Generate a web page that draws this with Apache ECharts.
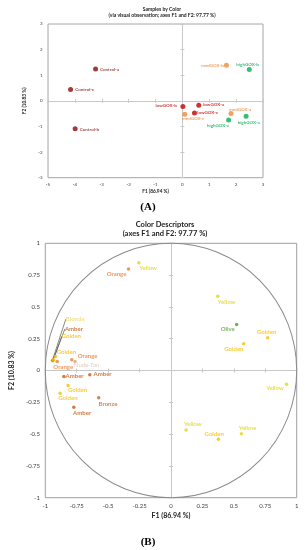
<!DOCTYPE html>
<html><head><meta charset="utf-8">
<script src="https://cdn.jsdelivr.net/npm/echarts@6/dist/echarts.min.js"></script>
<style>html,body{margin:0;padding:0;background:#fff}#c{width:305px;height:550px}</style>
</head><body><div id="c"></div>
<script>
// ---------- Panel A: samples ----------
const sampleNames = ['Control-a','Control-b','Control-c','lowGOX-a','lowGOX-b','lowGOX-c','medGOX-a','medGOX-b','medGOX-c','highGOX-a','highGOX-b','highGOX-c'];
const sampleF1 = [-3.23,-3.99,-4.16,0.61,0.02,0.45,1.81,1.64,0.09,2.37,2.49,1.72];
const sampleF2 = [1.24,-1.09,0.44,-0.17,-0.22,-0.47,-0.49,1.39,-0.52,-0.60,1.22,-0.75];
const axisA_x = [-5, 3, 1];   // min, max, interval
const axisA_y = [-3, 3, 1];

// ---------- Panel B: colour descriptors ----------
const descNames = ['Orange','Yellow','Blonde','Amber','Golden','Golden','Orange','Orange','Nude-Tan','Amber','Amber','Golden','Golden','Bronze','Amber','Yellow','Olive','Golden','Golden','Yellow','Yellow','Golden','Yellow'];
const descF1 = [-0.338,-0.256,-0.945,-0.940,-0.935,-0.918,-0.905,-0.789,-0.763,-0.852,-0.646,-0.819,-0.882,-0.575,-0.773,0.372,0.522,0.769,0.578,0.919,0.120,0.377,0.560];
const descF2 = [0.798,0.848,0.075,0.080,0.085,0.110,0.071,0.084,0.071,-0.047,-0.034,-0.118,-0.179,-0.215,-0.289,0.583,0.362,0.257,0.210,-0.108,-0.467,-0.541,-0.498];
const axisB = [-1, 1, 0.25];

// ---------- layout / style (not data) ----------
const sampleLabelOffsets = [[14,0],[14.3,0.3],[14.2,0.3],[14.9,-1],[-16.8,-1.4],[13.2,-0.3],[9.2,-4.3],[-14,0.7],[8.3,4.4],[2.7,6],[-1.7,-5.4],[-10.6,5]];
const descLabelOffsets = [[-12,4.6],[9.3,5.7],[23,-41.8],[21.1,-31.5],[17.9,-23.2],[10.8,-4.3],[6,5.7],[15.8,-3.3],[11.5,3.7],[10.7,-0.7],[12.8,-0.3],[9.5,4.3],[7.8,5],[9.3,6],[8.3,6.3],[8.8,5.7],[-8.9,4.7],[-1,-6],[-9.8,5.7],[-11.5,3.6],[6.7,-6.3],[-4.2,-5.4],[6.1,-5.3]];
const leaderIdx = [2,3,4];
const groupColors = {Control:'#8B0A0A', lowGOX:'#C00000', medGOX:'#F08A3C', highGOX:'#00B050'};
const descColors = {Orange:'#ED7D31', Yellow:'#E2D31C', Blonde:'#F0D86A', Amber:'#C55A11', Golden:'#F7BE00', 'Nude-Tan':'#D2A679', Bronze:'#BB6830', Olive:'#4E9A2E'};
const descLabelColors = Object.assign({}, descColors, {'Nude-Tan':'#D5C3B2', Olive:'#5AA33A'});

const FONT = 'Lato';
const chart = echarts.init(document.getElementById('c'), null, {renderer:'canvas'});

const sampleData = sampleNames.map((n,i) => {
  const c = groupColors[n.split('-')[0]];
  return {
    value:[sampleF1[i], sampleF2[i]], name:n,
    itemStyle:{color:c},
    label:{show:true, formatter:n, position:'inside', offset:sampleLabelOffsets[i], color:c, fontSize:4.5, fontWeight:'bold', fontFamily:FONT}
  };
});
const descData = descNames.map((n,i) => ({
  value:[descF1[i], descF2[i]], name:n,
  itemStyle:{color:descColors[n]},
  label:{show:true, formatter:n, position:'inside', color:descLabelColors[n], fontSize:6, fontWeight: n==='Nude-Tan' ? 'normal' : 'bold', fontFamily:FONT},
  labelLine:{show: leaderIdx.indexOf(i) >= 0, lineStyle:{color:'#555', width:0.7}}
}));

function baseAxis(grid, r, extra) {
  return Object.assign({
    gridIndex:grid, type:'value', min:r[0], max:r[1], interval:r[2],
    axisLine:{show:false, onZero:false}, axisTick:{show:false}, splitLine:{show:false}
  }, extra);
}
function zeroAxis(grid, r, inside) {
  return {
    gridIndex:grid, type:'value', min:r[0], max:r[1], interval:r[2],
    axisLine:{show:true, onZero:true, lineStyle:{color:'#c8c8c8', width:1}},
    axisTick:{show:true, inside:inside, length:2, lineStyle:{color:'#c8c8c8'}},
    axisLabel:{show:false}, splitLine:{show:false}
  };
}
const tickA = {fontSize:4.5, color:'#404040', fontFamily:FONT};
const tickB = {fontSize:6, color:'#404040', fontFamily:FONT};
const nameA = {fontSize:4.8, fontWeight:'bold', color:'#222', fontFamily:FONT};
const nameB = {fontSize:7, fontWeight:'bold', color:'#222', fontFamily:FONT};
const titleStyle = (fs) => ({fontSize:fs, fontWeight:'bold', color:'#222', fontFamily:FONT});
const serif = {fontSize:11, fontWeight:'bold', color:'#000', fontFamily:'Liberation Serif'};

chart.setOption({
  animation:false,
  backgroundColor:'#fff',
  title:[
    {text:'Samples by Color', left:162, top:6.5, textAlign:'center', padding:0, textStyle:titleStyle(5)},
    {text:'(via visual observation; axes F1 and F2: 97.77 %)', left:162, top:13.2, textAlign:'center', padding:0, textStyle:titleStyle(5)},
    {text:'(A)', left:148, top:201.5, textAlign:'center', padding:0, textStyle:serif},
    {text:'Color Descriptors', left:165, top:220.2, textAlign:'center', padding:0, textStyle:titleStyle(7.5)},
    {text:'(axes F1 and F2: 97.77 %)', left:165, top:229.5, textAlign:'center', padding:0, textStyle:titleStyle(7.5)},
    {text:'(B)', left:148, top:536.2, textAlign:'center', padding:0, textStyle:serif}
  ],
  grid:[
    {left:48, top:24, width:215, height:153.7, show:true, borderColor:'#a6a6a6', borderWidth:1, containLabel:false},
    {left:34.3, top:243.3, width:262.4, height:254.4, show:true, borderColor:'#a0a0a0', borderWidth:1, containLabel:false}
  ],
  xAxis:[
    baseAxis(0, axisA_x, {position:'bottom', axisLabel:Object.assign({margin:4}, tickA), name:'F1 (86.94 %)', nameLocation:'middle', nameGap:11, nameTextStyle:nameA}),
    zeroAxis(0, axisA_x, false),
    zeroAxis(0, axisA_x, true),
    baseAxis(1, axisB, {position:'bottom', axisLabel:Object.assign({margin:5}, tickB), name:'F1 (86.94 %)', nameLocation:'middle', nameGap:15, nameTextStyle:nameB}),
    zeroAxis(1, axisB, false),
    zeroAxis(1, axisB, true)
  ],
  yAxis:[
    baseAxis(0, axisA_y, {position:'left', axisLabel:Object.assign({margin:5.5}, tickA), name:'F2 (10.83 %)', nameLocation:'middle', nameRotate:90, nameGap:10, nameTextStyle:nameA}),
    zeroAxis(0, axisA_y, false),
    zeroAxis(0, axisA_y, true),
    baseAxis(1, axisB, {position:'left', axisLabel:Object.assign({margin:5.3}, tickB), name:'F2 (10.83 %)', nameLocation:'middle', nameRotate:90, nameGap:20.5, nameTextStyle:nameB}),
    zeroAxis(1, axisB, false),
    zeroAxis(1, axisB, true)
  ],
  series:[
    {type:'scatter', xAxisIndex:0, yAxisIndex:0, symbol:'circle', symbolSize:5, data:sampleData, z:5},
    {type:'custom', xAxisIndex:3, yAxisIndex:3, data:[[0,0]], silent:true, z:2,
      renderItem:function(params, api){
        const c = api.coord([0,0]);
        const e = api.coord([1,0]);
        const t = api.coord([0,1]);
        const rx = e[0]-c[0], ry = c[1]-t[1];
        return {type:'circle', shape:{cx:0, cy:0, r:rx}, x:c[0], y:c[1], scaleY:ry/rx,
          style:{fill:'none', stroke:'#8a8a8a', lineWidth:1}};
      }},
    {type:'scatter', xAxisIndex:3, yAxisIndex:3, symbol:'circle', symbolSize:3.5, data:descData, z:5,
      labelLayout:function(p){ const o = descLabelOffsets[p.dataIndex]; return {dx:o[0], dy:o[1]}; }}
  ]
});
</script></body></html>
